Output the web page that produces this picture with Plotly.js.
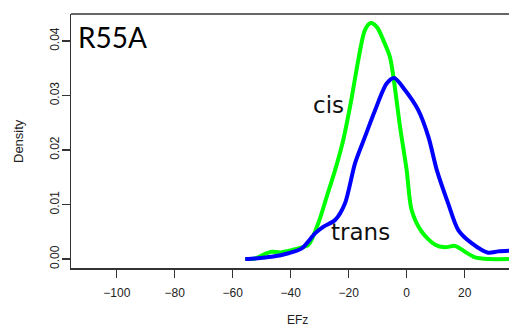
<!DOCTYPE html>
<html>
<head>
<meta charset="utf-8">
<script src="https://cdn.plot.ly/plotly-3.0.1.min.js"></script>
<style>html,body{margin:0;padding:0;background:#fff;overflow:hidden;}</style>
</head>
<body>
<div id="chart" style="width:509px;height:328px;"></div>
<script>
// cis (green) density estimate
var cisX = [-55.7, -52.3, -49, -46.6, -43.5, -40.8, -37.4, -33.9, -30.5, -27.6, -24.7, -21.9, -19.1, -16.7, -14.4, -12.4, -10.2, -8.1, -5.8, -4.6, -2.3, 0, 1.7, 5.2, 9.8, 13.2, 16.7, 20.1, 23.6, 28.2, 35.3];
var cisY = [0.0, 0.0001, 0.0009, 0.00134, 0.0012, 0.0015, 0.00196, 0.0026, 0.00655, 0.0114, 0.0163, 0.0218, 0.0292, 0.0365, 0.042, 0.0433, 0.0425, 0.0402, 0.0371, 0.0335, 0.0243, 0.0163, 0.009, 0.005, 0.0026, 0.00214, 0.0024, 0.00134, 0.0003, 0.0, 0.0];
// trans (blue) density estimate
var transX = [-55.7, -52.3, -46.6, -40.8, -36.2, -31.6, -28.8, -24.7, -21.3, -17.8, -14.4, -10.9, -6.9, -4.3, -0.6, 4.0, 7.5, 10.4, 14.3, 17.8, 22.4, 28.1, 31.5, 35.3];
var transY = [0.0, 0.0001, 0.0004, 0.00105, 0.00196, 0.0047, 0.0059, 0.00716, 0.0102, 0.0176, 0.0224, 0.0273, 0.0322, 0.0332, 0.031, 0.0273, 0.0224, 0.0163, 0.0102, 0.0053, 0.0029, 0.00116, 0.0014, 0.0015];
var xTicks = [-100, -80, -60, -40, -20, 0, 20];
var yTicks = [0.00, 0.01, 0.02, 0.03, 0.04];

var traces = [
  {x: cisX, y: cisY, type: 'scatter', mode: 'lines', name: 'cis',
   line: {color: '#00ff00', width: 4, shape: 'spline', smoothing: 0.8}},
  {x: transX, y: transY, type: 'scatter', mode: 'lines', name: 'trans',
   line: {color: '#0000ff', width: 4, shape: 'spline', smoothing: 0.8}}
];

var tickFont = {family: 'Liberation Sans, Arial, sans-serif', size: 12, color: '#222'};

var layout = {
  width: 509, height: 328,
  margin: {l: 71, r: 0, t: 14, b: 60, pad: 0},
  paper_bgcolor: '#fff', plot_bgcolor: '#fff',
  showlegend: false,
  xaxis: {
    range: [-115.8, 35.3], tickvals: xTicks, ticktext: xTicks.map(function(v){return v < 0 ? '\u2212' + Math.abs(v) : String(v);}),
    showgrid: false, zeroline: false,
    showline: true, linecolor: '#333', linewidth: 1.5, mirror: false,
    ticks: 'outside', ticklen: 8, tickwidth: 1.2, tickcolor: '#333',
    ticklabelstandoff: 5,
    tickfont: tickFont
  },
  yaxis: {
    range: [-0.00165, 0.04495], tickvals: yTicks, ticktext: yTicks.map(function(v){return v.toFixed(2);}),
    tickangle: -90,
    showgrid: false, zeroline: false,
    showline: true, linecolor: '#333', linewidth: 1.5, mirror: false,
    ticks: 'outside', ticklen: 8, tickwidth: 1.2, tickcolor: '#333',
    ticklabelstandoff: -2,
    tickfont: tickFont
  },
  shapes: [
    {type: 'line', xref: 'paper', yref: 'paper', x0: 0, x1: 1, y0: 1, y1: 1,
     line: {color: '#333', width: 1.5}}
  ],
  annotations: [
    {text: 'R55A', xref: 'paper', yref: 'paper', x: 0.012, y: 0.909, xanchor: 'left', yanchor: 'middle',
     showarrow: false, font: {family: 'Lato, DejaVu Sans, sans-serif', size: 28, color: '#000'}},
    {text: 'cis', xref: 'x', yref: 'y', x: -27.1, y: 0.0282, xanchor: 'center', yanchor: 'middle',
     showarrow: false, font: {family: 'DejaVu Sans, sans-serif', size: 23, color: '#111'}},
    {text: 'trans', xref: 'x', yref: 'y', x: -15.8, y: 0.0050, xanchor: 'center', yanchor: 'middle',
     showarrow: false, font: {family: 'DejaVu Sans, sans-serif', size: 23, color: '#111'}},
    {text: 'EFz', xref: 'paper', yref: 'paper', x: (297 - 71) / 438, y: (268 - 320) / 254, xanchor: 'center', yanchor: 'middle',
     showarrow: false, font: {family: 'Liberation Sans, Arial, sans-serif', size: 12, color: '#222'}},
    {text: 'Density', xref: 'paper', yref: 'paper', x: (18 - 71) / 438, y: (268 - 141) / 254, xanchor: 'center', yanchor: 'middle',
     textangle: -90, showarrow: false, font: {family: 'Liberation Sans, Arial, sans-serif', size: 13, color: '#222'}}
  ]
};

Plotly.newPlot('chart', traces, layout, {displayModeBar: false, staticPlot: true});
</script>
</body>
</html>
